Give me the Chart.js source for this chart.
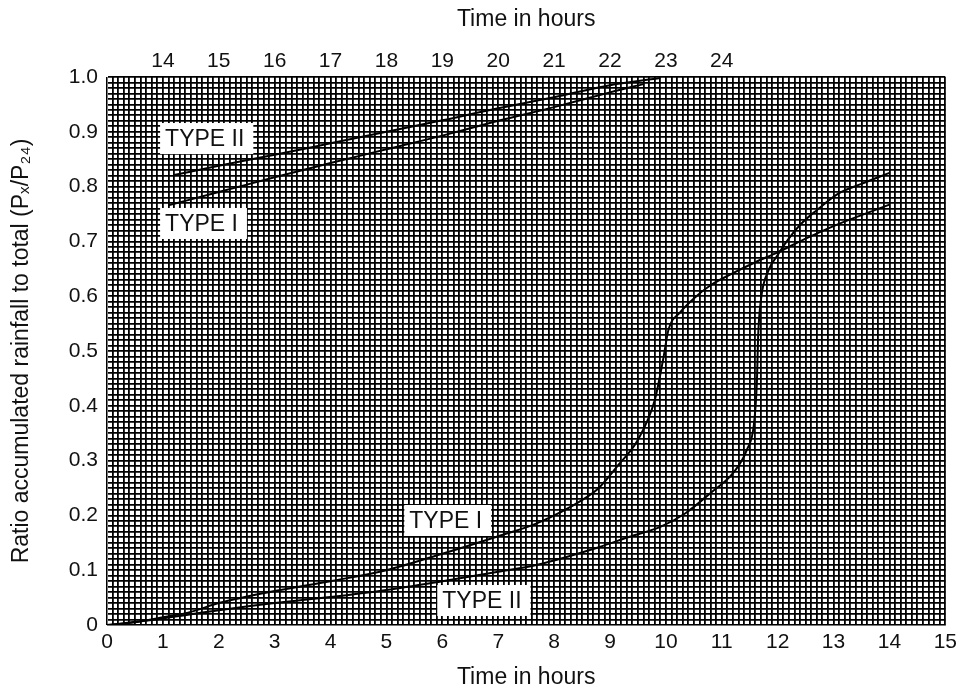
<!DOCTYPE html>
<html>
<head>
<meta charset="utf-8">
<script src="https://cdn.jsdelivr.net/npm/chart.js@4/dist/chart.umd.min.js"></script>
<style>
  html, body { margin: 0; padding: 0; background: #fff; }
  #wrap { width: 962px; height: 691px; }
</style>
</head>
<body>
<div id="wrap"><canvas id="c" width="962" height="691"></canvas></div>
<script>
// ---- Data ----
// Bottom axis: 0-15 h
const typeIHours  = [0, 0.5, 1, 1.5, 2, 3, 4, 5, 6, 7, 7.7, 8.5, 8.8, 9.15, 9.5, 9.8, 9.95, 10.05, 10.25, 10.5, 10.8, 11.2, 11.6, 12.0, 12.5, 13, 13.5, 14];
const typeIRatio  = [0, 0.005, 0.014, 0.024, 0.04, 0.062, 0.08, 0.1, 0.13, 0.162, 0.186, 0.228, 0.25, 0.292, 0.338, 0.41, 0.484, 0.54, 0.57, 0.596, 0.62, 0.642, 0.662, 0.68, 0.705, 0.728, 0.748, 0.767];
const typeIIHours = [0, 1, 2, 3, 4, 5, 6, 7, 7.7, 8.8, 9.35, 9.9, 10.35, 10.8, 11.2, 11.45, 11.58, 11.63, 11.65, 11.7, 11.84, 12.0, 12.14, 12.4, 12.7, 13.1, 13.5, 14];
const typeIIRatio = [0, 0.012, 0.027, 0.04, 0.051, 0.064, 0.08, 0.097, 0.11, 0.142, 0.161, 0.179, 0.204, 0.241, 0.277, 0.32, 0.37, 0.447, 0.525, 0.593, 0.648, 0.675, 0.697, 0.73, 0.757, 0.788, 0.805, 0.825];
// Top axis: 14-24 h (continuation)
const typeILateHours  = [14.1, 15, 16, 17, 18, 19, 20, 21, 22, 22.6];
const typeILateRatio  = [0.766, 0.79, 0.817, 0.843, 0.868, 0.893, 0.92, 0.945, 0.972, 0.987];
const typeIILateHours = [14.2, 15, 16, 17, 18, 19, 20, 21, 22, 22.9];
const typeIILateRatio = [0.821, 0.838, 0.858, 0.879, 0.9, 0.921, 0.943, 0.963, 0.985, 0.998];
// Tick labels
const bottomTicks = [0,1,2,3,4,5,6,7,8,9,10,11,12,13,14,15];
const topTicks = [14,15,16,17,18,19,20,21,22,23,24];
const yTickLabels = ['0','0.1','0.2','0.3','0.4','0.5','0.6','0.7','0.8','0.9','1.0'];
// Curve labels: [text, axis, left hour, top ratio]
const curveLabels = [
  ['TYPE II', 'x', 0.95, 0.916],
  ['TYPE I',  'x', 0.95, 0.761],
  ['TYPE I',  'x', 5.32, 0.219],
  ['TYPE II', 'x', 5.91, 0.073]
];

const FONT = "'Liberation Sans', Arial, Helvetica, sans-serif";
Chart.defaults.font.family = FONT;
Chart.defaults.color = '#111';

const pts = (h, v) => h.map((x, i) => ({ x: x, y: v[i] }));

const lineStyle = {
  borderColor: '#000', borderWidth: 2, pointRadius: 0, fill: false,
  cubicInterpolationMode: 'monotone', showLine: true
};

const labelPlugin = {
  id: 'curveLabels',
  afterDatasetsDraw(chart) {
    const ctx = chart.ctx;
    ctx.save();
    ctx.font = '23px ' + FONT;
    ctx.textBaseline = 'middle';
    ctx.textAlign = 'left';
    curveLabels.forEach(([txt, ax, hx, ry]) => {
      const px = chart.scales[ax].getPixelForValue(hx);
      const py = chart.scales.y.getPixelForValue(ry);
      const w = ctx.measureText(txt).width + 14;
      const h = 31;
      ctx.fillStyle = '#fff';
      ctx.fillRect(px, py, w, h);
      ctx.fillStyle = '#111';
      ctx.fillText(txt, px + 5, py + h / 2 + 1);
    });
    ctx.restore();
  }
};

new Chart(document.getElementById('c'), {
  type: 'scatter',
  data: {
    datasets: [
      Object.assign({ label: 'Type I', data: pts(typeIHours, typeIRatio), xAxisID: 'x' }, lineStyle),
      Object.assign({ label: 'Type II', data: pts(typeIIHours, typeIIRatio), xAxisID: 'x' }, lineStyle),
      Object.assign({ label: 'Type I (14-24 h)', data: pts(typeILateHours, typeILateRatio), xAxisID: 'x2' }, lineStyle),
      Object.assign({ label: 'Type II (14-24 h)', data: pts(typeIILateHours, typeIILateRatio), xAxisID: 'x2' }, lineStyle)
    ]
  },
  options: {
    responsive: false,
    animation: false,
    devicePixelRatio: 1,
    layout: { padding: { left: 0, right: 16, top: 0, bottom: 0 } },
    plugins: { legend: { display: false }, tooltip: { enabled: false } },
    scales: {
      x: {
        type: 'linear', position: 'bottom', min: 0, max: 15,
        afterFit: s => { s.height = 66; },
        ticks: {
          stepSize: 0.1, autoSkip: false, maxTicksLimit: 400, maxRotation: 0, minRotation: 0,
          padding: 5, color: '#111', font: { size: 21 },
          callback: v => { const r = Math.round(v); return (Math.abs(v - r) < 1e-6 && bottomTicks.includes(r)) ? String(r) : ''; }
        },
        grid: { color: '#000', lineWidth: 1.8, drawTicks: false },
        border: { color: '#777', width: 1 },
        title: { display: true, text: 'Time in hours', font: { size: 23 }, color: '#111', padding: { top: 0, bottom: 0 } }
      },
      x2: {
        type: 'linear', position: 'top', min: 13, max: 28,
        afterFit: s => { s.height = 77; },
        afterBuildTicks: s => { s.ticks = topTicks.map(v => ({ value: v })); },
        ticks: { autoSkip: false, maxRotation: 0, minRotation: 0, padding: 3, color: '#111', font: { size: 21 },
          callback: v => String(v) },
        grid: { display: false, drawTicks: false },
        border: { display: false },
        title: { display: true, text: 'Time in hours', font: { size: 23 }, color: '#111', padding: { top: 6, bottom: 0 } }
      },
      y: {
        type: 'linear', position: 'left', min: 0, max: 1,
        afterFit: s => { s.width = 107; },
        ticks: {
          stepSize: 0.01, autoSkip: false, maxTicksLimit: 400, padding: 9, color: '#111', font: { size: 21 },
          callback: v => { const k = Math.round(v * 10); return Math.abs(v * 10 - k) < 1e-6 ? yTickLabels[k] : ''; }
        },
        grid: { color: '#000', lineWidth: 1.8, drawTicks: false },
        border: { color: '#777', width: 1 },
        title: { display: true, text: 'Ratio accumulated rainfall to total (Pₓ/P₂₄)', font: { size: 23 }, color: '#111', padding: { top: 8, bottom: 0 } }
      }
    }
  },
  plugins: [labelPlugin]
});
</script>
</body>
</html>
